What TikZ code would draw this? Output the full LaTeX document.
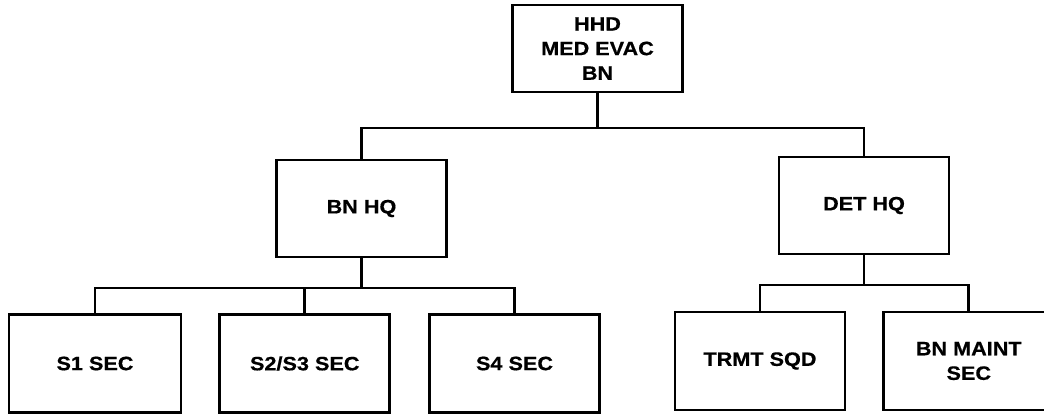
\documentclass[tikz,border=0pt]{standalone}
\usepackage{fontspec}
\usepackage{tikz}
\usetikzlibrary{positioning,calc}
\newfontfamily\orgfont[FakeStretch=1.12,FakeBold=0.6]{Liberation Sans}
\tikzset{
  unit/.style={draw,line width=1.6pt,align=center,inner sep=0pt,minimum width=3.4cm,
    font=\orgfont\bfseries\fontsize{11}{14}\selectfont},
  topunit/.style={unit,minimum height=1.74cm},
  hqunit/.style={unit,minimum height=1.94cm},
  secunit/.style={unit,minimum height=1.96cm},
  link/.style={line width=1.6pt},
}
\begin{document}
\begin{tikzpicture}[x=0.02cm,y=-0.02cm,node distance=0.72cm]
  \useasboundingbox (0,0) rectangle (1044,413);
  % battalion
  \node[topunit] (hhd) at (597.5,48.5) {HHD\\MED EVAC\\BN};
  % headquarters
  \node[hqunit] (bnhq) at (361.5,208.5) {BN HQ};
  \node[hqunit] (dethq) at (864,205.5) {DET HQ};
  % sections under BN HQ
  \node[secunit,minimum width=3.44cm] (s1) at (95,363.5) {S1 SEC};
  \node[secunit,right=0.72cm of s1] (s23) {S2/S3 SEC};
  \node[secunit,right=0.74cm of s23] (s4) {S4 SEC};
  % sections under DET HQ
  \node[secunit] (trmt) at (760,361) {TRMT SQD};
  \node[secunit,right=0.72cm of trmt] (maint) {BN MAINT\\SEC};
  % buses
  \coordinate (busA) at (0,128);
  \coordinate (busB) at (0,288);
  \coordinate (busC) at (0,285);
  % links
  \draw[link] (hhd.south) -- (hhd.south |- busA);
  \draw[link] (bnhq.north) -- (bnhq.north |- busA) -- (dethq.north |- busA) -- (dethq.north);
  \draw[link] (bnhq.south) -- (bnhq.south |- busB);
  \draw[link] (s1.north) -- (s1.north |- busB) -- (s4.north |- busB) -- (s4.north);
  \draw[link] (s23.north) -- (s23.north |- busB);
  \draw[link] (dethq.south) -- (dethq.south |- busC);
  \draw[link] (trmt.north) -- (trmt.north |- busC) -- (maint.north |- busC) -- (maint.north);
\end{tikzpicture}
\end{document}
